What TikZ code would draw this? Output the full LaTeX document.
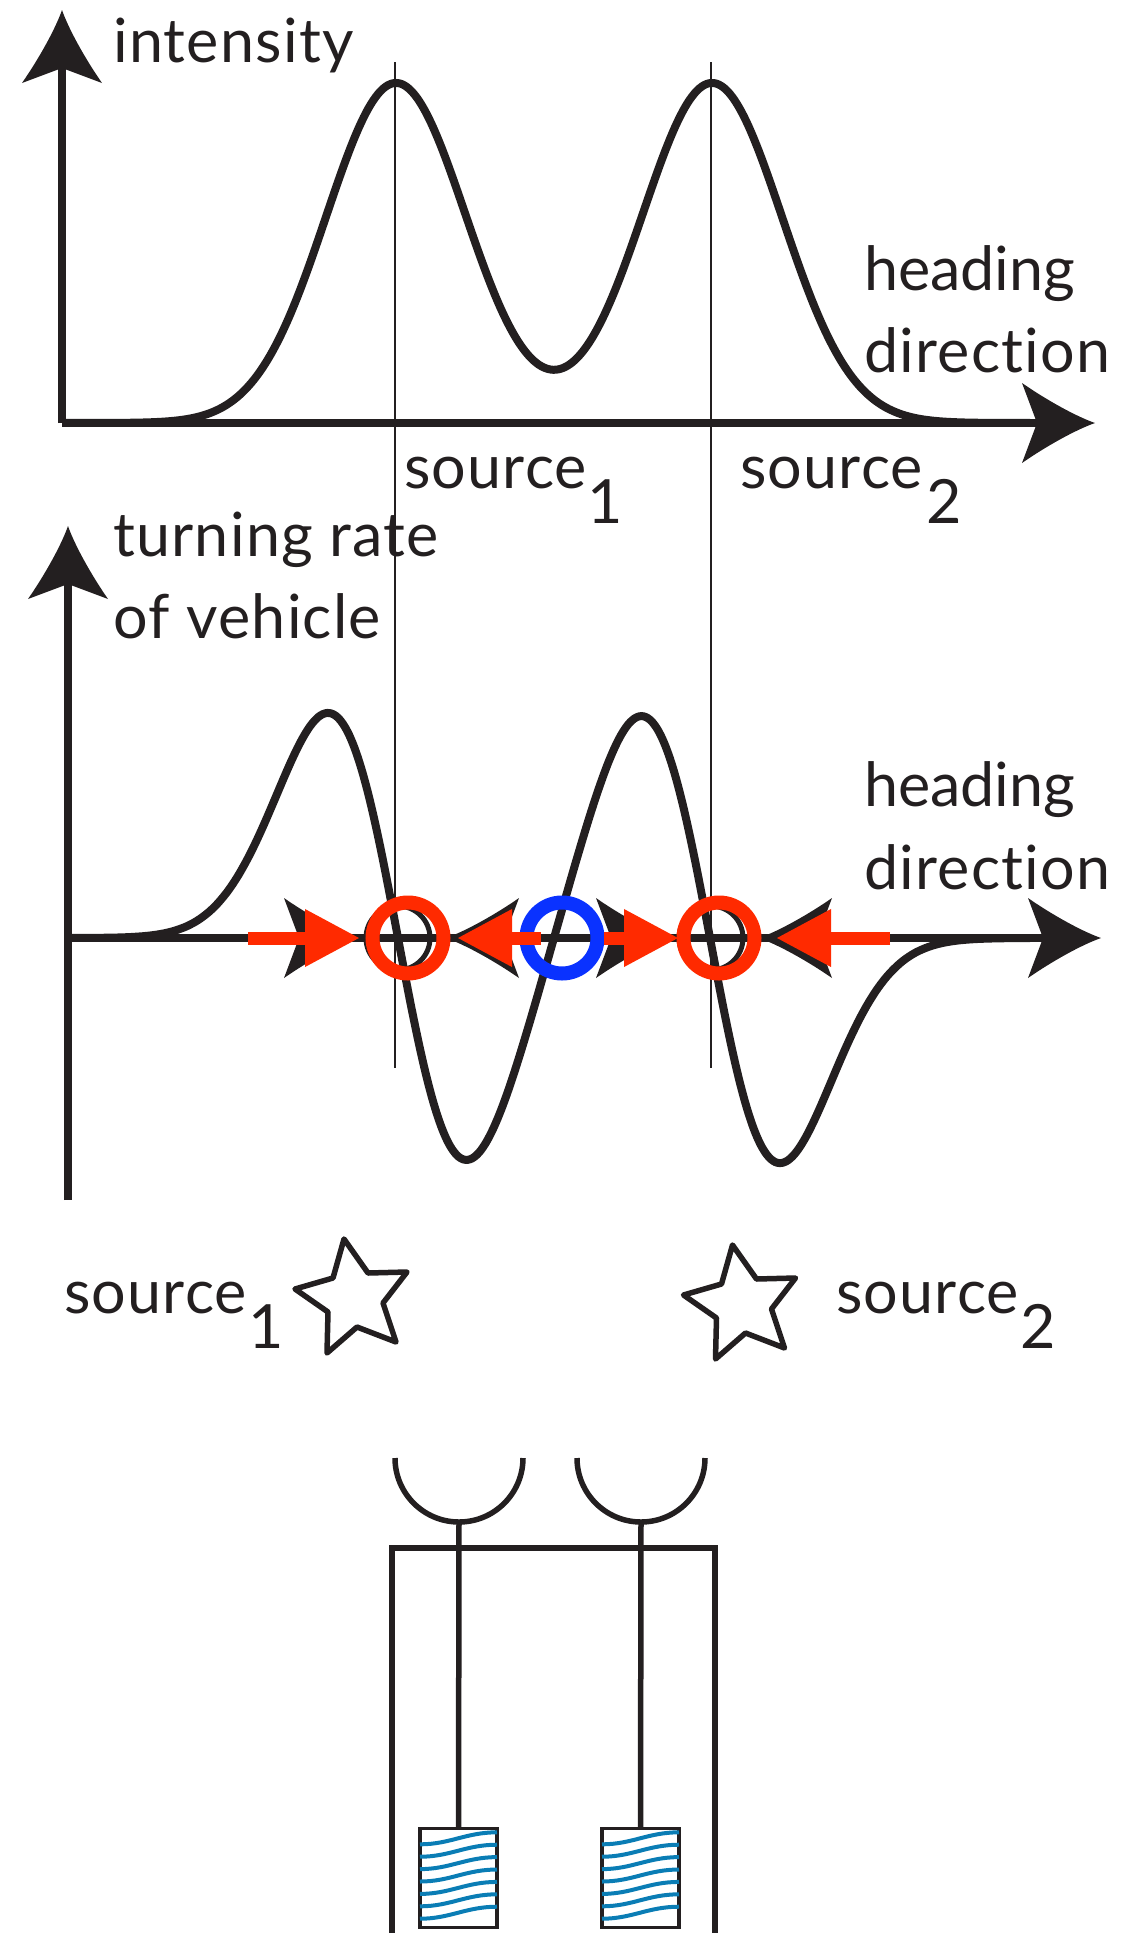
\documentclass[tikz,border=0pt]{standalone}
\usepackage{fontspec}
\setmainfont{Lato}[Ligatures=NoCommon,LetterSpace=2]
\newfontfamily\tightlato{Lato}
\usetikzlibrary{arrows.meta}
\definecolor{inkk}{HTML}{231F20}
\definecolor{stablered}{HTML}{FF2A00}
\definecolor{unstableblue}{HTML}{0A32FF}
\definecolor{tankblue}{HTML}{0A7DB5}
\pgfarrowsdeclare{curvehead}{curvehead}{\pgfarrowsleftextend{-15pt}\pgfarrowsrightextend{58pt}}{
  \pgfsetlinewidth{0pt}
  \pgfpathmoveto{\pgfpoint{58pt}{0pt}}
  \pgfpathcurveto{\pgfpoint{38pt}{7pt}}{\pgfpoint{8pt}{24pt}}{\pgfpoint{-15pt}{40pt}}
  \pgfpathlineto{\pgfpoint{0pt}{0pt}}
  \pgfpathlineto{\pgfpoint{-15pt}{-40pt}}
  \pgfpathcurveto{\pgfpoint{8pt}{-24pt}}{\pgfpoint{38pt}{-7pt}}{\pgfpoint{58pt}{0pt}}
  \pgfusepathqfill
}
\begin{document}
\begin{tikzpicture}[
  x=1pt,y=-1pt,
  color=inkk,
  font=\fontsize{61}{61}\selectfont,
  lab/.style={anchor=base west,inner sep=0pt},
  axis/.style={line width=7.5pt,-curvehead},
  curve/.style={line width=8pt,line join=round},
  guide/.style={line width=2pt},
  redar/.style={stablered,line width=13pt,-{Triangle[length=55pt,width=54pt]}},
  fixpt/.style={circle,line width=14pt,minimum size=71pt,inner sep=0pt},
  tank/.style={draw,line width=3.5pt,minimum width=77pt,minimum height=99pt,inner sep=0pt},
  wave/.style={tankblue,line width=4pt},
  vehicle/.style={line width=5.5pt}
]
\useasboundingbox (0,0) rectangle (1143,1933);

% upper plot
\coordinate (o1) at (62,423);
\coordinate (ytop1) at (62,10);
\coordinate (xend1) at (1095,423);
\draw[guide] (395,62) coordinate (g1a) -- (395,1068) coordinate (g1b);
\draw[guide] (711,62) coordinate (g2a) -- (711,1068) coordinate (g2b);
\draw[axis] (o1) -- (ytop1);
\draw[axis] (o1) -- (xend1);
\draw[curve] plot[domain=62:1030,samples=200,smooth] (\x,{423-340*(exp(-((\x-396)/70)^2/2)+exp(-((\x-712)/70)^2/2))});

\node[lab] (inten) at (113,62) {intensity};
\node[lab] (head1) at (864,290) {\tightlato heading};
\node[lab] (dir1) at (864,372) {direction};
\node[lab] (src1) at (404,488) {source};
\node[lab] (sub1) at (587,523) {1};
\node[lab] (src2) at (740,488) {source};
\node[lab] (sub2) at (926,523) {2};

% lower plot
\coordinate (o2) at (68,938);
\coordinate (ytop2) at (68,526);
\coordinate (ybot2) at (68,1200);
\coordinate (xend2) at (1101,938);
\draw[line width=7.5pt] (ybot2) -- (o2);
\draw[axis] (o2) -- (ytop2);
\draw[axis] (o2) -- (xend2);
\draw[curve] plot[domain=68:1030,samples=220,smooth] (\x,{938+371*(((\x-398)/70)*exp(-((\x-398)/70)^2/2)+((\x-710)/70)*exp(-((\x-710)/70)^2/2))});

\node[lab] (turn) at (113,556) {turning rate};
\node[lab] (veh) at (113,638) {of vehicle};
\node[lab] (head2) at (864,806) {\tightlato heading};
\node[lab] (dir2) at (864,889) {direction};

\coordinate (a1s) at (248,938); \coordinate (a1b) at (357,938); \coordinate (a1r) at (360,938);
\coordinate (a2s) at (541,938); \coordinate (a2b) at (446,938); \coordinate (a2r) at (457,938);
\coordinate (a3s) at (604,938); \coordinate (a3b) at (669,938); \coordinate (a3r) at (679,938);
\coordinate (a4s) at (890,938); \coordinate (a4b) at (759,938); \coordinate (a4r) at (776,938);
\foreach \n in {1,2,3,4}
  \draw[axis] (a\n s) -- (a\n b);
\draw[line width=5pt] (398,938) circle[radius=32];
\draw[line width=5pt] (711,938) circle[radius=32];
\node[fixpt,draw=unstableblue] (fixb) at (562,938) {};
\foreach \n in {1,2,3,4}
  \draw[redar] (a\n s) -- (a\n r);
\node[fixpt,draw=stablered] (fixa) at (408,938) {};
\node[fixpt,draw=stablered] (fixc) at (719,938) {};

% sources
\foreach \dx/\dy in {0/0,388.5/6}
  \draw[line width=5.5pt,line join=round,shift={(\dx,\dy)}] (344,1239) -- (368,1273) -- (407,1272) -- (383,1303)
    -- (396,1342) -- (357,1327) -- (327,1353) -- (328,1312) -- (295,1289) -- (333,1278) -- cycle;
\node[lab] (src3) at (64,1313) {source};
\node[lab] (sub3) at (248,1348) {1};
\node[lab] (src4) at (836,1313) {source};
\node[lab] (sub4) at (1020,1348) {2};

% vehicle
\coordinate (cupL) at (459,1522);
\coordinate (cupR) at (641,1522);
\node[tank] (tankL) at (458.5,1878) {};
\node[tank] (tankR) at (640.5,1878) {};
\draw[vehicle] (395,1458) arc[start angle=180,end angle=0,radius=64];
\draw[vehicle] (577,1458) arc[start angle=180,end angle=0,radius=64];
\draw[vehicle] (392,1933) -- (392,1548) -- (715,1548) -- (715,1933);
\draw[vehicle] (cupL) -- (tankL.north);
\draw[vehicle] (cupR) -- (tankR.north);
\foreach \k in {0,...,6}{
  \draw[wave] (420,1844.3+12.4*\k) .. controls (450,1844.3+12.4*\k) and (466,1832.3+12.4*\k) .. (497,1832.3+12.4*\k);
  \draw[wave] (602,1844.3+12.4*\k) .. controls (632,1844.3+12.4*\k) and (648,1832.3+12.4*\k) .. (679,1832.3+12.4*\k);
}
\end{tikzpicture}
\end{document}
